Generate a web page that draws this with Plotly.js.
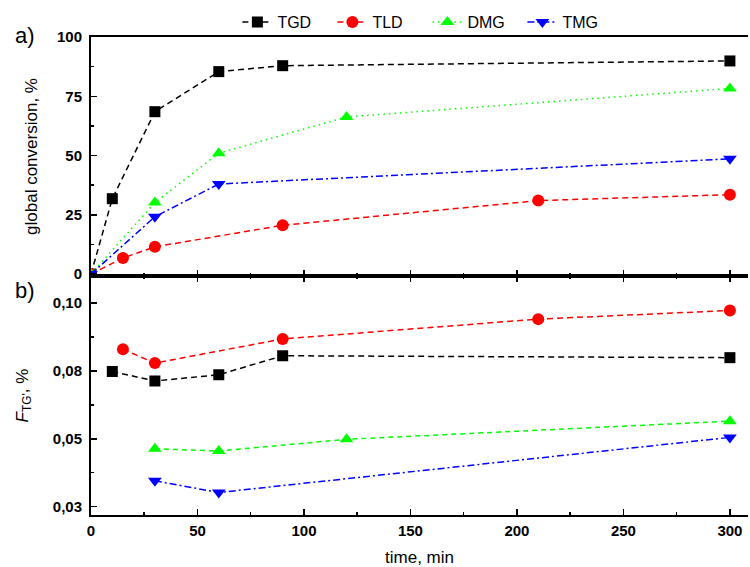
<!DOCTYPE html>
<html>
<head>
<meta charset="utf-8">
<script src="https://cdn.plot.ly/plotly-3.0.1.min.js"></script>
<style>html,body{margin:0;padding:0;background:#fff;}#chart{width:750px;height:567px;}</style>
</head>
<body>
<div id="chart"></div>
<script>
// ---- data: panel a) global conversion, % ----
const tgdTimeA = [0, 10, 30, 60, 90, 300];
const tgdConv  = [0, 31.8, 68.5, 85.4, 87.9, 89.9];
const tldTimeA = [0, 15, 30, 90, 210, 300];
const tldConv  = [0, 6.8, 11.5, 20.6, 31.0, 33.5];
const dmgTimeA = [0, 30, 60, 120, 300];
const dmgConv  = [0, 30.2, 51.0, 66.3, 78.3];
const tmgTimeA = [0, 30, 60, 300];
const tmgConv  = [0, 24.2, 38.0, 48.6];

// ---- data: panel b) F_TG', % ----
const tgdTimeB = [10, 30, 60, 90, 300];
const tgdF     = [0.0748, 0.0713, 0.0736, 0.0806, 0.0799];
const tldTimeB = [15, 30, 90, 210, 300];
const tldF     = [0.0830, 0.0779, 0.0868, 0.0941, 0.0973];
const dmgTimeB = [30, 60, 120, 300];
const dmgF     = [0.0463, 0.0455, 0.0498, 0.0565];
const tmgTimeB = [30, 60, 300];
const tmgF     = [0.0345, 0.0302, 0.0505];

const seriesNames = ['TGD', 'TLD', 'DMG', 'TMG'];
const yTicksB = [0.025, 0.05, 0.075, 0.1];
const yTickTextB = ['0,03', '0,05', '0,08', '0,10'];

const FONT = 'Liberation Sans, Arial, sans-serif';
const BLACK = '#000000', RED = '#ff0000', GREEN = '#00ff00', BLUE = '#0000ff';

function tr(x, y, name, color, symbol, size, dash, xa, ya, show) {
  return {
    x: x, y: y, name: name, type: 'scatter', mode: 'lines+markers',
    xaxis: xa, yaxis: ya, showlegend: show, legendgroup: name,
    line: {color: color, width: 1.5, dash: dash},
    marker: {color: color, symbol: symbol, size: size, line: {width: 0}}
  };
}

const data = [
  tr(tgdTimeA, tgdConv, seriesNames[0], BLACK, 'square', 11, '6px,4px', 'x', 'y', true),
  tr(tldTimeA, tldConv, seriesNames[1], RED, 'circle', 12, '6px,4px', 'x', 'y', true),
  tr(dmgTimeA, dmgConv, seriesNames[2], GREEN, 'triangle-up', 12, '1.5px,4px', 'x', 'y', true),
  tr(tmgTimeA, tmgConv, seriesNames[3], BLUE, 'triangle-down', 12, '7px,3px,2px,3px', 'x', 'y', true),
  tr(tgdTimeB, tgdF, seriesNames[0], BLACK, 'square', 11, '6px,4px', 'x2', 'y2', false),
  tr(tldTimeB, tldF, seriesNames[1], RED, 'circle', 12, '6px,4px', 'x2', 'y2', false),
  tr(dmgTimeB, dmgF, seriesNames[2], GREEN, 'triangle-up', 12, '5px,4px', 'x2', 'y2', false),
  tr(tmgTimeB, tmgF, seriesNames[3], BLUE, 'triangle-down', 12, '7px,3px,2px,3px', 'x2', 'y2', false)
];

const tickFont = {family: FONT, size: 15, color: '#000', weight: 'bold'};
const common = {
  showgrid: false, zeroline: false, showline: true, linecolor: '#000', linewidth: 2,
  ticks: 'inside', ticklen: 6, tickwidth: 1.5, tickcolor: '#000', tickfont: tickFont
};

const layout = {
  width: 750, height: 567,
  margin: {l: 91, r: 2, t: 37, b: 52},
  paper_bgcolor: '#fff', plot_bgcolor: '#fff',
  font: {family: FONT, color: '#000'},
  showlegend: true,
  legend: {
    orientation: 'h', x: 0.512, xanchor: 'center', y: 1.031, yanchor: 'middle',
    font: {family: FONT, size: 16, color: '#000'}, bgcolor: 'rgba(0,0,0,0)',
    entrywidth: 50, tracegroupgap: 0, itemwidth: 30
  },
  xaxis: Object.assign({}, common, {
    anchor: 'y', domain: [0, 1], range: [0, 308.5], dtick: 50, tick0: 0,
    showticklabels: false, mirror: true,
    minor: {dtick: 25, tick0: 0, ticks: 'inside', ticklen: 3, tickwidth: 1.5, tickcolor: '#000'}
  }),
  yaxis: Object.assign({}, common, {
    anchor: 'x', domain: [0.5, 1], range: [-0.8, 100], tickmode: 'array',
    tickvals: [0, 25, 50, 75, 100], ticklabelstandoff: 4,
    minor: {tickmode: 'array', tickvals: [12.5, 37.5, 62.5, 87.5], ticks: 'inside', ticklen: 3, tickwidth: 1.5, tickcolor: '#000'},
    title: {text: 'global conversion, %', font: {family: FONT, size: 17, color: '#000'}, standoff: 15}
  }),
  xaxis2: Object.assign({}, common, {
    anchor: 'y2', domain: [0, 1], range: [0, 308.5], dtick: 50, tick0: 0,
    mirror: 'ticks', ticklabelstandoff: 1,
    minor: {dtick: 25, tick0: 0, ticks: 'inside', ticklen: 3, tickwidth: 1.5, tickcolor: '#000'},
    title: {text: 'time, min', font: {family: FONT, size: 17, color: '#000'}, standoff: 23}
  }),
  yaxis2: Object.assign({}, common, {
    anchor: 'x2', domain: [0, 0.5], range: [0.0219, 0.110], tickmode: 'array',
    tickvals: yTicksB, ticktext: yTickTextB, ticklabelstandoff: 4,
    minor: {tickmode: 'array', tickvals: [0.0375, 0.0625, 0.0875], ticks: 'inside', ticklen: 3, tickwidth: 1.5, tickcolor: '#000'},
    title: {text: "<i>F</i><sub>TG'</sub>, %", font: {family: FONT, size: 17, color: '#000'}, standoff: 20}
  }),
  annotations: [
    {text: 'a)', xref: 'paper', yref: 'paper', x: -0.101, y: 1.004, xanchor: 'center', yanchor: 'middle',
     showarrow: false, font: {family: FONT, size: 22, color: '#000'}},
    {text: 'b)', xref: 'paper', yref: 'paper', x: -0.101, y: 0.469, xanchor: 'center', yanchor: 'middle',
     showarrow: false, font: {family: FONT, size: 22, color: '#000'}}
  ]
};

Plotly.newPlot('chart', data, layout, {displayModeBar: false, staticPlot: true});
</script>
</body>
</html>
